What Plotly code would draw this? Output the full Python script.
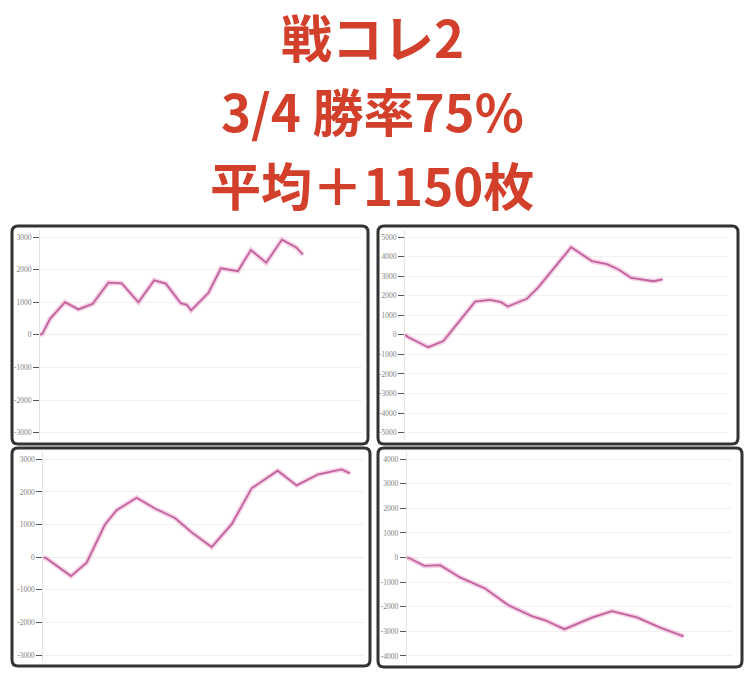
import plotly.graph_objects as go

W, H = 750, 674

# ---------------- data ----------------
title_lines = ["戦コレ2", "3/4 勝率75%", "平均＋1150枚"]

p1_x = [0, 7, 30, 75, 115, 158, 205, 245, 295, 342, 377, 422, 440, 453, 505, 542, 593, 632, 678, 725, 768, 788]
p1_y = [0, 30, 490, 1000, 780, 950, 1600, 1580, 1000, 1670, 1570, 970, 920, 750, 1290, 2040, 1950, 2600, 2210, 2920, 2680, 2460]
p1_ticks = [3000, 2000, 1000, 0, -1000, -2000, -3000]

p2_x = [0, 10, 70, 115, 210, 255, 288, 308, 365, 400, 498, 560, 605, 640, 678, 710, 745, 772]
p2_y = [0, -120, -630, -320, 1700, 1790, 1670, 1450, 1840, 2440, 4480, 3770, 3610, 3340, 2910, 2830, 2740, 2830]
p2_ticks = [5000, 4000, 3000, 2000, 1000, 0, -1000, -2000, -3000, -4000, -5000]

p3_x = [0, 10, 83, 130, 185, 220, 280, 335, 395, 445, 505, 565, 625, 703, 760, 825, 895, 920]
p3_y = [0, -40, -580, -170, 1000, 1440, 1820, 1490, 1200, 760, 310, 1010, 2110, 2650, 2200, 2540, 2690, 2570]
p3_ticks = [3000, 2000, 1000, 0, -1000, -2000, -3000]

p4_x = [0, 10, 53, 77, 100, 160, 235, 305, 375, 415, 473, 555, 615, 690, 760, 830]
p4_y = [0, -40, -340, -340, -310, -810, -1260, -1940, -2380, -2550, -2910, -2440, -2180, -2430, -2850, -3200]
p4_ticks = [4000, 3000, 2000, 1000, 0, -1000, -2000, -3000, -4000]

# ---------------- layout geometry ----------------
panels = [
    dict(x=p1_x, y=p1_y, ticks=p1_ticks, left=40, right=362, xmax=965, ptop=237, pbot=432.7, box=(12, 226, 368, 444)),
    dict(x=p2_x, y=p2_y, ticks=p2_ticks, left=405, right=728, xmax=968, ptop=237, pbot=432.7, box=(378, 226, 738, 444)),
    dict(x=p3_x, y=p3_y, ticks=p3_ticks, left=43.3, right=365, xmax=965, ptop=459.3, pbot=655, box=(12, 448, 370, 666)),
    dict(x=p4_x, y=p4_y, ticks=p4_ticks, left=406.7, right=732, xmax=975, ptop=459, pbot=656, box=(378, 448, 742, 667)),
]

LINE_COLOR = "#c2629c"
GLOW_COLOR = "rgba(236,170,210,0.55)"
TITLE_COLOR = "#d2402b"


def xdom(l, r):
    return [l / W, r / W]


def ydom(top, bot):
    return [1 - bot / H, 1 - top / H]


def rounded_rect(x0, y0, x1, y1, r):
    def P(x, y):
        return f"{x / W:.5f},{1 - y / H:.5f}"
    return (f"M {P(x0 + r, y0)} L {P(x1 - r, y0)} Q {P(x1, y0)} {P(x1, y0 + r)} "
            f"L {P(x1, y1 - r)} Q {P(x1, y1)} {P(x1 - r, y1)} L {P(x0 + r, y1)} "
            f"Q {P(x0, y1)} {P(x0, y1 - r)} L {P(x0, y0 + r)} Q {P(x0, y0)} {P(x0 + r, y0)} Z")


fig = go.Figure()
shapes = []
for i, p in enumerate(panels, start=1):
    ax = "" if i == 1 else str(i)
    vt, vb = max(p["ticks"]), min(p["ticks"])
    ppu = (p["pbot"] - p["ptop"]) / (vt - vb)
    pad = (vt - vb) * 0.035
    top_px = p["ptop"] - pad * ppu
    bot_px = p["pbot"] + pad * ppu

    fig.add_trace(go.Scatter(x=p["x"], y=p["y"], mode="lines", xaxis="x" + ax, yaxis="y" + ax,
                             line=dict(color=GLOW_COLOR, width=5), hoverinfo="skip", showlegend=False))
    fig.add_trace(go.Scatter(x=p["x"], y=p["y"], mode="lines", xaxis="x" + ax, yaxis="y" + ax,
                             line=dict(color=LINE_COLOR, width=1.8), showlegend=False))

    fig.layout["xaxis" + ax] = dict(domain=xdom(p["left"], p["right"]), range=[0, p["xmax"]],
                                    showgrid=False, zeroline=False, showticklabels=False,
                                    showline=False, anchor="y" + ax, fixedrange=True)
    fig.layout["yaxis" + ax] = dict(domain=ydom(top_px, bot_px), range=[vb - pad, vt + pad],
                                    tickvals=p["ticks"], ticktext=[str(t) for t in p["ticks"]],
                                    showgrid=True, gridcolor="#f1f1f1", gridwidth=1,
                                    zeroline=True, zerolinecolor="#ececec", zerolinewidth=1,
                                    showline=True, linecolor="#e2e2e2", linewidth=1,
                                    ticks="outside", ticklen=6, tickcolor="#555", tickwidth=1,
                                    tickfont=dict(family="Liberation Serif", size=7.5, color="#808080"),
                                    anchor="x" + ax, fixedrange=True)
    x0, y0, x1, y1 = p["box"]
    shapes.append(dict(type="path", xref="paper", yref="paper", path=rounded_rect(x0, y0, x1, y1, 6),
                       line=dict(color="#333333", width=3), layer="above"))

annotations = []
for text, cy in zip(title_lines, [36, 110, 184]):
    annotations.append(dict(text=text, x=372 / W, y=1 - cy / H, xref="paper", yref="paper",
                            showarrow=False, xanchor="center", yanchor="middle",
                            font=dict(family="Noto Sans CJK JP", size=51, color=TITLE_COLOR, weight="bold")))

fig.update_layout(width=W, height=H, margin=dict(l=0, r=0, t=0, b=0),
                  paper_bgcolor="white", plot_bgcolor="white",
                  shapes=shapes, annotations=annotations, showlegend=False)

fig.write_html("out.html", config={"displayModeBar": False},
               post_script="document.body.style.margin='0';")
